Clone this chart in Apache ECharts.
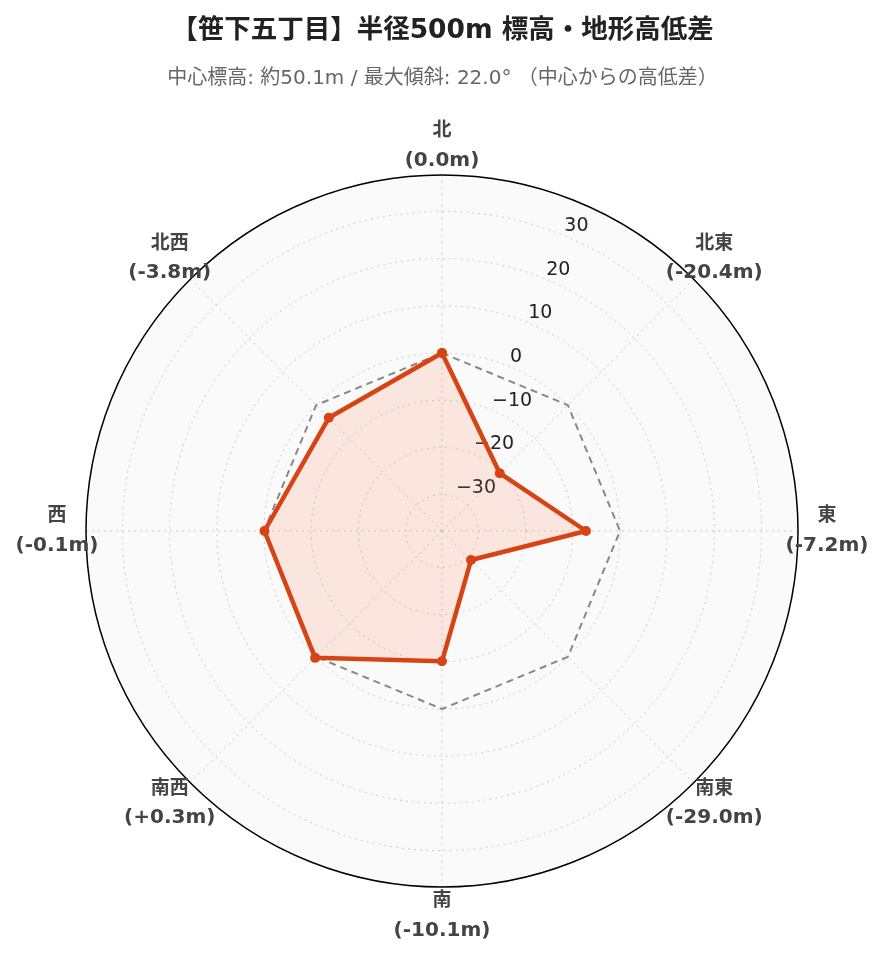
<!DOCTYPE html>
<html lang="ja">
<head>
<meta charset="UTF-8">
<title>笹下五丁目 標高</title>
<script src="https://cdn.jsdelivr.net/npm/echarts@6/dist/echarts.min.js"></script>
<style>
  html, body { margin: 0; padding: 0; background: #fff; }
  #main { width: 885px; height: 962px; }
</style>
</head>
<body>
<div id="main"></div>
<script>
// 方角ごとの中心からの高低差 (m)
var directions = ['北', '北東', '東', '南東', '南', '南西', '西', '北西'];
var diffs = [0.0, -20.4, -7.2, -29.0, -10.1, 0.3, -0.1, -3.8];
var refLine = [0, 0, 0, 0, 0, 0, 0, 0];
// 角度軸上の位置 (startAngle 67.5, 時計回り)
var dirAngles = [337.5, 22.5, 67.5, 112.5, 157.5, 202.5, 247.5, 292.5];
var rMax = 37.7;

var cx = 442, cy = 531, outerPx = 356, labelPx = 385;
// 方角ラベルを置く半径 (軸の値に換算)
var labelR = rMax * (2 * labelPx / outerPx - 1);

function fmtDiff(v) {
  var s = v.toFixed(1);
  if (v > 0) s = '+' + s;
  return '(' + s + 'm)';
}

function closed(vals) {
  var out = [];
  for (var i = 0; i < vals.length; i++) out.push([vals[i], dirAngles[i]]);
  out.push([vals[0], dirAngles[0]]);
  return out;
}

var labelData = [];
for (var i = 0; i < directions.length; i++) {
  labelData.push({ value: [labelR, dirAngles[i]], name: directions[i], diff: diffs[i] });
}

var font = "'DejaVu Sans', 'Noto Sans CJK JP', sans-serif";
var myChart = echarts.init(document.getElementById('main'));
var option = {
  backgroundColor: '#fff',
  title: {
    text: '【笹下五丁目】半径500m 標高・地形高低差',
    subtext: '中心標高: 約50.1m / 最大傾斜: 22.0° （中心からの高低差）',
    left: 'center',
    top: 13,
    itemGap: 24,
    textStyle: { fontFamily: font, fontSize: 26.5, fontWeight: 'bold', color: '#222' },
    subtextStyle: { fontFamily: font, fontSize: 20, color: '#666' }
  },
  graphic: [{
    type: 'circle',
    z: -10,
    silent: true,
    shape: { cx: cx, cy: cy, r: outerPx },
    style: { fill: '#fafafa' }
  }],
  polar: {
    center: [cx, cy],
    radius: outerPx
  },
  angleAxis: {
    type: 'value',
    min: 0,
    max: 360,
    interval: 22.5,
    startAngle: 67.5,
    clockwise: true,
    axisLine: { show: true, lineStyle: { color: '#000', width: 1.5 } },
    axisTick: { show: false },
    axisLabel: { show: false },
    splitLine: {
      show: true,
      lineStyle: { color: ['rgba(0,0,0,0)', '#cccccc'], type: [2, 4], width: 1 }
    }
  },
  radiusAxis: {
    type: 'value',
    min: -rMax,
    max: rMax,
    splitNumber: 8,
    axisLine: { show: false },
    axisTick: { show: false },
    splitLine: { show: true, lineStyle: { color: '#cccccc', type: [2, 4], width: 1 } },
    axisLabel: {
      margin: 0,
      rotate: 0,
      align: 'left',
      verticalAlign: 'bottom',
      fontFamily: font,
      fontSize: 19,
      color: '#222',
      showMinLabel: false,
      showMaxLabel: false,
      formatter: function (v) {
        if (Math.abs(v - Math.round(v / 10) * 10) > 1e-6) return '';
        return v < 0 ? '\u2212' + Math.abs(v) : String(v);
      }
    }
  },
  series: [
    {
      type: 'line',
      coordinateSystem: 'polar',
      data: closed(refLine),
      symbol: 'none',
      lineStyle: { color: '#888', width: 2, type: [7, 5] },
      silent: true,
      z: 2
    },
    {
      type: 'line',
      coordinateSystem: 'polar',
      data: closed(diffs),
      symbol: 'circle',
      symbolSize: 10,
      itemStyle: { color: '#d84315' },
      lineStyle: { color: '#d84315', width: 4.5 },
      areaStyle: { origin: 'start', color: 'rgba(255, 112, 67, 0.2)' },
      z: 3
    },
    {
      // 方角ラベル
      type: 'scatter',
      coordinateSystem: 'polar',
      data: labelData,
      symbolSize: 1,
      itemStyle: { color: 'rgba(255,255,255,0)', opacity: 1 },
      clip: false,
      silent: true,
      z: 4,
      label: {
        show: true,
        position: 'inside',
        color: '#444',
        textBorderWidth: 0,
        formatter: function (p) {
          return '{d|' + p.data.name + '}\n{v|' + fmtDiff(p.data.diff) + '}';
        },
        rich: {
          d: { fontFamily: font, fontSize: 19, fontWeight: 'bold', color: '#444', lineHeight: 29, align: 'center' },
          v: { fontFamily: font, fontSize: 20, fontWeight: 'bold', color: '#444', lineHeight: 29, align: 'center' }
        }
      }
    }
  ]
};
myChart.setOption(option);
</script>
</body>
</html>
